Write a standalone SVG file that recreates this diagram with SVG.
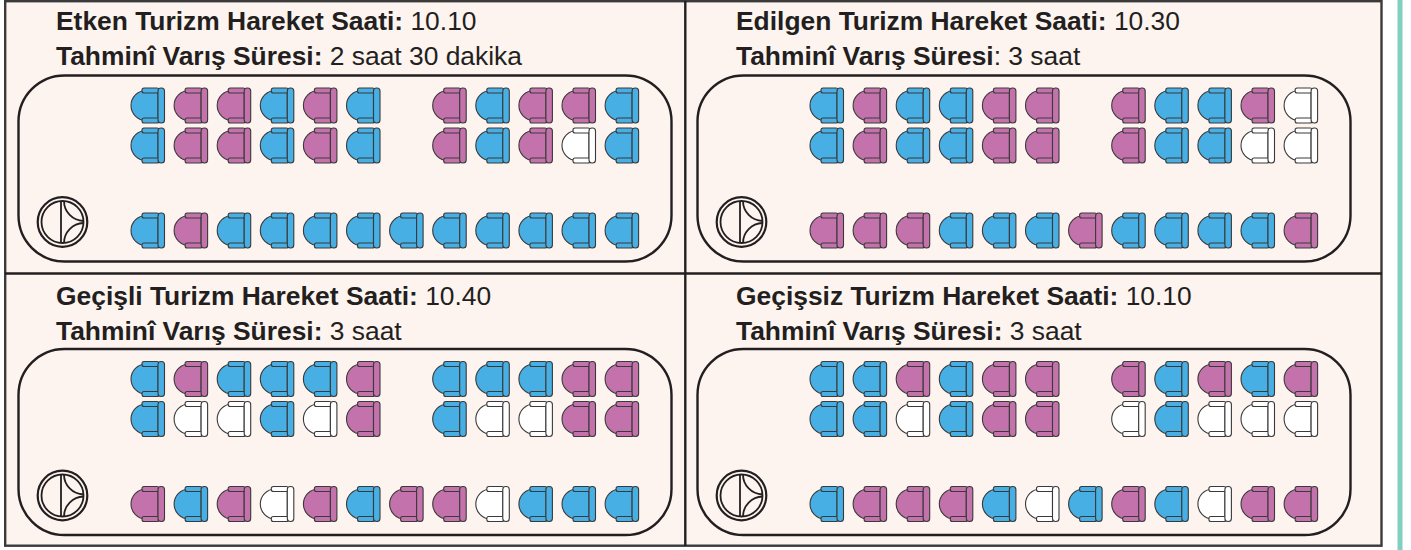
<svg xmlns="http://www.w3.org/2000/svg" xmlns:xlink="http://www.w3.org/1999/xlink" width="1411" height="550" viewBox="0 0 1411 550">
<style>
.t{font-family:"Liberation Sans",Arial,sans-serif;font-size:26.4px;fill:#231f20}
.bd{font-weight:bold}
.b{fill:#47afe3}
.p{fill:#c472ac}
.w{fill:#ffffff}
.seatpart{stroke:#3a3a3a;stroke-width:1.1}
.bus{fill:none;stroke:#231f20;stroke-width:2.4}
.wheel{fill:none;stroke:#231f20}
</style>
<defs>
<g id="s">
<path class="seatpart" d="M27.5,3 H15.5 A15 15 0 0 0 15.5,33 H27.5 Z"/>
<rect class="seatpart" x="11.5" y="0.5" width="17" height="5" rx="2"/>
<rect class="seatpart" x="11.5" y="30.5" width="17" height="5" rx="2"/>
<rect class="seatpart" x="27.5" y="0.5" width="6.5" height="35" rx="3"/>
</g>
<g id="wheel">
<circle class="wheel" cx="62.5" cy="222" r="24.8" stroke-width="2.2"/>
<circle class="wheel" cx="62.5" cy="222" r="21" stroke-width="1.8"/>
<line class="wheel" x1="61" y1="201" x2="61" y2="243" stroke-width="1.8"/>
<path class="wheel" d="M64,201 A20 20 0 0 0 83.5,221" stroke-width="1.8"/>
<path class="wheel" d="M83.5,223 A20 20 0 0 0 64,243" stroke-width="1.8"/>
</g>
<rect id="busbody" class="bus" x="18.5" y="75.5" width="653" height="186" rx="46"/>
</defs>
<rect x="0" y="0" width="1411" height="550" fill="#ffffff"/>
<rect x="1397.5" y="0" width="5" height="550" fill="#80cfc0"/>
<g id="frame">
<rect x="5.2" y="1.2" width="1376.3" height="544.5" fill="#fdf4f0" stroke="#3a3a3a" stroke-width="2.4"/>
<line x1="685.3" y1="1" x2="685.3" y2="546" stroke="#231f20" stroke-width="2.4"/>
<line x1="5" y1="273.5" x2="1382" y2="273.5" stroke="#231f20" stroke-width="2.4"/>
</g>

<g id="panel-etken">
<text class="t" x="56" y="30"><tspan class="bd">Etken Turizm Hareket Saati:</tspan> 10.10</text>
<text class="t" x="56" y="65"><tspan class="bd">Tahminî Varış Süresi:</tspan> 2 saat 30 dakika</text>
<use href="#busbody"/>
<use href="#wheel"/>
<g transform="translate(0,87.5)">
<use href="#s" class="b" x="130.5"/><use href="#s" class="p" x="173.6"/><use href="#s" class="p" x="216.7"/><use href="#s" class="b" x="259.8"/><use href="#s" class="p" x="302.9"/><use href="#s" class="b" x="346"/>
<use href="#s" class="p" x="432.2"/><use href="#s" class="b" x="475.3"/><use href="#s" class="p" x="518.4"/><use href="#s" class="p" x="561.5"/><use href="#s" class="b" x="604.6"/>
</g>
<g transform="translate(0,127.5)">
<use href="#s" class="b" x="130.5"/><use href="#s" class="p" x="173.6"/><use href="#s" class="p" x="216.7"/><use href="#s" class="b" x="259.8"/><use href="#s" class="p" x="302.9"/><use href="#s" class="b" x="346"/>
<use href="#s" class="p" x="432.2"/><use href="#s" class="b" x="475.3"/><use href="#s" class="p" x="518.4"/><use href="#s" class="w" x="561.5"/><use href="#s" class="b" x="604.6"/>
</g>
<g transform="translate(0,212.5)">
<use href="#s" class="b" x="130.5"/><use href="#s" class="p" x="173.6"/><use href="#s" class="b" x="216.7"/><use href="#s" class="b" x="259.8"/><use href="#s" class="b" x="302.9"/><use href="#s" class="b" x="346"/>
<use href="#s" class="b" x="389.1"/><use href="#s" class="b" x="432.2"/><use href="#s" class="b" x="475.3"/><use href="#s" class="b" x="518.4"/><use href="#s" class="b" x="561.5"/><use href="#s" class="b" x="604.6"/>
</g>
</g>

<g id="panel-edilgen" transform="translate(679,0)">
<text class="t" x="57" y="30"><tspan class="bd">Edilgen Turizm Hareket Saati:</tspan> 10.30</text>
<text class="t" x="57" y="65"><tspan class="bd">Tahminî Varış Süresi</tspan>: 3 saat</text>
<use href="#busbody"/>
<use href="#wheel"/>
<g transform="translate(0,87.5)">
<use href="#s" class="b" x="130.5"/><use href="#s" class="p" x="173.6"/><use href="#s" class="b" x="216.7"/><use href="#s" class="b" x="259.8"/><use href="#s" class="p" x="302.9"/><use href="#s" class="p" x="346"/>
<use href="#s" class="p" x="432.2"/><use href="#s" class="b" x="475.3"/><use href="#s" class="b" x="518.4"/><use href="#s" class="p" x="561.5"/><use href="#s" class="w" x="604.6"/>
</g>
<g transform="translate(0,127.5)">
<use href="#s" class="b" x="130.5"/><use href="#s" class="p" x="173.6"/><use href="#s" class="b" x="216.7"/><use href="#s" class="b" x="259.8"/><use href="#s" class="p" x="302.9"/><use href="#s" class="p" x="346"/>
<use href="#s" class="p" x="432.2"/><use href="#s" class="b" x="475.3"/><use href="#s" class="b" x="518.4"/><use href="#s" class="w" x="561.5"/><use href="#s" class="w" x="604.6"/>
</g>
<g transform="translate(0,212.5)">
<use href="#s" class="p" x="130.5"/><use href="#s" class="p" x="173.6"/><use href="#s" class="p" x="216.7"/><use href="#s" class="b" x="259.8"/><use href="#s" class="b" x="302.9"/><use href="#s" class="b" x="346"/>
<use href="#s" class="p" x="389.1"/><use href="#s" class="b" x="432.2"/><use href="#s" class="b" x="475.3"/><use href="#s" class="b" x="518.4"/><use href="#s" class="b" x="561.5"/><use href="#s" class="p" x="604.6"/>
</g>
</g>

<g id="panel-gecisli" transform="translate(0,273.5)">
<text class="t" x="56" y="31"><tspan class="bd">Geçişli Turizm Hareket Saati:</tspan> 10.40</text>
<text class="t" x="56" y="66"><tspan class="bd">Tahminî Varış Süresi:</tspan> 3 saat</text>
<use href="#busbody"/>
<use href="#wheel"/>
<g transform="translate(0,87.5)">
<use href="#s" class="b" x="130.5"/><use href="#s" class="p" x="173.6"/><use href="#s" class="b" x="216.7"/><use href="#s" class="b" x="259.8"/><use href="#s" class="b" x="302.9"/><use href="#s" class="p" x="346"/>
<use href="#s" class="b" x="432.2"/><use href="#s" class="b" x="475.3"/><use href="#s" class="b" x="518.4"/><use href="#s" class="p" x="561.5"/><use href="#s" class="p" x="604.6"/>
</g>
<g transform="translate(0,127.5)">
<use href="#s" class="b" x="130.5"/><use href="#s" class="w" x="173.6"/><use href="#s" class="w" x="216.7"/><use href="#s" class="b" x="259.8"/><use href="#s" class="w" x="302.9"/><use href="#s" class="p" x="346"/>
<use href="#s" class="b" x="432.2"/><use href="#s" class="w" x="475.3"/><use href="#s" class="w" x="518.4"/><use href="#s" class="p" x="561.5"/><use href="#s" class="p" x="604.6"/>
</g>
<g transform="translate(0,212.5)">
<use href="#s" class="p" x="130.5"/><use href="#s" class="b" x="173.6"/><use href="#s" class="p" x="216.7"/><use href="#s" class="w" x="259.8"/><use href="#s" class="p" x="302.9"/><use href="#s" class="b" x="346"/>
<use href="#s" class="p" x="389.1"/><use href="#s" class="p" x="432.2"/><use href="#s" class="w" x="475.3"/><use href="#s" class="b" x="518.4"/><use href="#s" class="b" x="561.5"/><use href="#s" class="b" x="604.6"/>
</g>
</g>

<g id="panel-gecissiz" transform="translate(679,273.5)">
<text class="t" x="57" y="31"><tspan class="bd">Geçişsiz Turizm Hareket Saati:</tspan> 10.10</text>
<text class="t" x="57" y="66"><tspan class="bd">Tahminî Varış Süresi:</tspan> 3 saat</text>
<use href="#busbody"/>
<use href="#wheel"/>
<g transform="translate(0,87.5)">
<use href="#s" class="b" x="130.5"/><use href="#s" class="b" x="173.6"/><use href="#s" class="p" x="216.7"/><use href="#s" class="b" x="259.8"/><use href="#s" class="p" x="302.9"/><use href="#s" class="p" x="346"/>
<use href="#s" class="p" x="432.2"/><use href="#s" class="b" x="475.3"/><use href="#s" class="p" x="518.4"/><use href="#s" class="b" x="561.5"/><use href="#s" class="p" x="604.6"/>
</g>
<g transform="translate(0,127.5)">
<use href="#s" class="b" x="130.5"/><use href="#s" class="b" x="173.6"/><use href="#s" class="w" x="216.7"/><use href="#s" class="b" x="259.8"/><use href="#s" class="p" x="302.9"/><use href="#s" class="p" x="346"/>
<use href="#s" class="w" x="432.2"/><use href="#s" class="b" x="475.3"/><use href="#s" class="w" x="518.4"/><use href="#s" class="w" x="561.5"/><use href="#s" class="w" x="604.6"/>
</g>
<g transform="translate(0,212.5)">
<use href="#s" class="b" x="130.5"/><use href="#s" class="p" x="173.6"/><use href="#s" class="p" x="216.7"/><use href="#s" class="p" x="259.8"/><use href="#s" class="b" x="302.9"/><use href="#s" class="w" x="346"/>
<use href="#s" class="b" x="389.1"/><use href="#s" class="p" x="432.2"/><use href="#s" class="b" x="475.3"/><use href="#s" class="w" x="518.4"/><use href="#s" class="p" x="561.5"/><use href="#s" class="p" x="604.6"/>
</g>
</g>
<g id="connectors"/>
</svg>
